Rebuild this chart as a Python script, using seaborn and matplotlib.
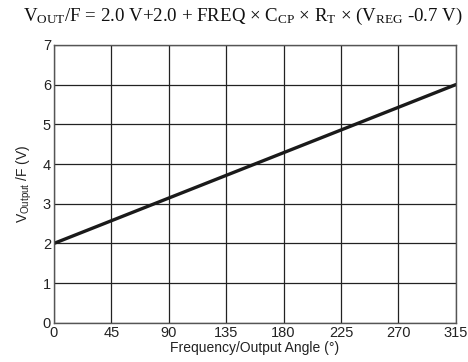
import matplotlib
matplotlib.use("Agg")
import matplotlib.pyplot as plt
import seaborn as sns
import pandas as pd

# values
angle = [0, 315]
vout = [2.0, 6.0]
x_ticks = [0, 45, 90, 135, 180, 225, 270, 315]
y_ticks = [0, 1, 2, 3, 4, 5, 6, 7]

sns.set_style("white")
plt.rcParams['font.family'] = ['Liberation Sans', 'DejaVu Sans']
plt.rcParams['mathtext.fontset'] = 'custom'
plt.rcParams['mathtext.rm'] = 'Liberation Serif'
plt.rcParams['mathtext.sf'] = 'Liberation Sans'
plt.rcParams['mathtext.it'] = 'Liberation Serif:italic'

df = pd.DataFrame({'angle': angle, 'vout': vout})

fig = plt.figure(figsize=(4.68, 3.62), dpi=100)
ax = fig.add_axes([0.115, 0.108, 0.859, 0.768])

sns.lineplot(data=df, x='angle', y='vout', ax=ax, color='#1a1a1a', linewidth=2.4)

ax.set_xlim(0, 315)
ax.set_ylim(0, 7)
ax.set_xticks(x_ticks)
ax.set_yticks(y_ticks)
ax.grid(True, color='#222222', linewidth=0.9)
ax.set_axisbelow(True)
for s in ax.spines.values():
    s.set_color('#555555')
    s.set_linewidth(1.0)
ax.tick_params(length=0, labelsize=10.5, colors='#222222', pad=2)

ax.set_xlabel('Frequency/Output Angle (°)', fontsize=10, color='#222222', labelpad=1)
ax.set_ylabel(r'$\mathsf{V_{Output}}$ /F (V)', fontsize=10, color='#222222', labelpad=6)

fig.text(0.52, 0.955,
         r'$\mathrm{V_{OUT}}$/F = 2.0 V+2.0 + FREQ × $\mathrm{C_{CP}}$ × $\mathrm{R_T}$ × ($\mathrm{V_{REG}}$ -0.7 V)',
         family='Liberation Serif', fontsize=13.6, ha='center', va='center', color='#111111')

fig.savefig('out.png', dpi=100)
